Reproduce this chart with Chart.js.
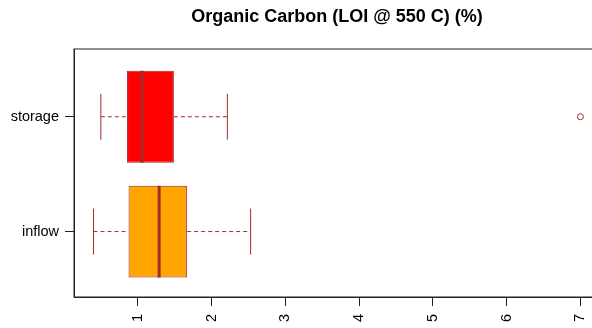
<!DOCTYPE html>
<html>
<head>
<meta charset="utf-8">
<script src="https://cdn.jsdelivr.net/npm/chart.js@4/dist/chart.umd.min.js"></script>
<style>
  html, body { margin: 0; padding: 0; background: #fff; overflow: hidden; }
  #wrap { width: 606px; height: 328px; }
</style>
</head>
<body>
<div id="wrap"><canvas id="boxChart"></canvas></div>
<script>
// groups, bottom to top
const groups = ['inflow', 'storage'];
const fills = ['#FFA500', '#FF0000'];
// five-number summaries
const whiskerLow = [0.40, 0.50];
const q1 = [0.875, 0.855];
const median = [1.29, 1.06];
const q3 = [1.67, 1.49];
const whiskerHigh = [2.53, 2.215];
// outliers: [group index, value]
const outliers = [[1, 7.0]];
const xTicks = [1, 2, 3, 4, 5, 6, 7];

const edge = '#A52A2A';
const font = 'Liberation Sans, Arial, Helvetica, sans-serif';

const datasets = [];

datasets.push({
    type: 'bar',
    data: groups.map((g, i) => ({ x: [q1[i], q3[i]], y: i + 1 })),
    backgroundColor: fills,
    borderColor: edge,
    borderWidth: 1,
    borderSkipped: false,
    categoryPercentage: 1,
    barPercentage: 0.8,
    order: 3
});

groups.forEach((g, i) => {
    const y = i + 1;
    const lines = [
        { pts: [[whiskerLow[i], y], [q1[i], y]], dash: [4, 3], w: 1 },
        { pts: [[q3[i], y], [whiskerHigh[i], y]], dash: [4, 3], w: 1 },
        { pts: [[whiskerLow[i], y - 0.2], [whiskerLow[i], y + 0.2]], dash: [], w: 1 },
        { pts: [[whiskerHigh[i], y - 0.2], [whiskerHigh[i], y + 0.2]], dash: [], w: 1 },
        { pts: [[median[i], y - 0.4], [median[i], y + 0.4]], dash: [], w: 3 }
    ];
    lines.forEach(l => {
        datasets.push({
            type: 'line',
            data: l.pts.map(p => ({ x: p[0], y: p[1] })),
            borderColor: edge,
            borderWidth: l.w,
            borderDash: l.dash,
            pointRadius: 0,
            fill: false,
            order: l.w > 1 ? 1 : 2
        });
    });
});

datasets.push({
    type: 'line',
    data: outliers.map(o => ({ x: o[1], y: o[0] + 1 })),
    showLine: false,
    pointStyle: 'circle',
    pointRadius: 3,
    pointBorderWidth: 1,
    pointBorderColor: edge,
    pointBackgroundColor: 'rgba(0,0,0,0)',
    order: 1
});

const frameAndTitle = {
    id: 'frameAndTitle',
    afterDraw(chart) {
        const { ctx, chartArea: a } = chart;
        ctx.save();
        ctx.strokeStyle = '#222';
        ctx.lineWidth = 1;
        ctx.strokeRect(a.left, a.top, a.right - a.left, a.bottom - a.top);
        ctx.fillStyle = '#000';
        ctx.font = 'bold 18px ' + font;
        ctx.textAlign = 'center';
        ctx.textBaseline = 'middle';
        ctx.fillText('Organic Carbon (LOI @ 550 C) (%)', (a.left + a.right) / 2, 17);
        ctx.restore();
    }
};

new Chart(document.getElementById('boxChart'), {
    type: 'bar',
    data: { datasets: datasets },
    plugins: [frameAndTitle],
    options: {
        indexAxis: 'y',
        responsive: true,
        maintainAspectRatio: false,
        animation: false,
        layout: { padding: { top: 49, right: 6, left: 0, bottom: 0 } },
        plugins: { legend: { display: false }, tooltip: { enabled: false } },
        scales: {
            x: {
                type: 'linear',
                min: 0.136,
                max: 7.264,
                offset: false,
                afterBuildTicks: s => { s.ticks = xTicks.map(v => ({ value: v })); },
                afterFit: s => { s.height = 31; },
                grid: { offset: false, drawOnChartArea: false, tickLength: 9, color: '#222' },
                border: { display: true, color: '#222' },
                ticks: {
                    minRotation: 90, maxRotation: 90, padding: 8,
                    color: '#000', font: { family: font, size: 14.5 }
                }
            },
            y: {
                type: 'linear',
                min: 0.43,
                max: 2.59,
                offset: false,
                afterBuildTicks: s => { s.ticks = groups.map((g, i) => ({ value: i + 1 })); },
                afterFit: s => { s.width = 74; },
                grid: { offset: false, drawOnChartArea: false, tickLength: 9, color: '#222' },
                border: { display: true, color: '#222' },
                ticks: {
                    padding: 6, color: '#000', font: { family: font, size: 14.5 },
                    callback: v => groups[v - 1]
                }
            }
        }
    }
});
</script>
</body>
</html>
